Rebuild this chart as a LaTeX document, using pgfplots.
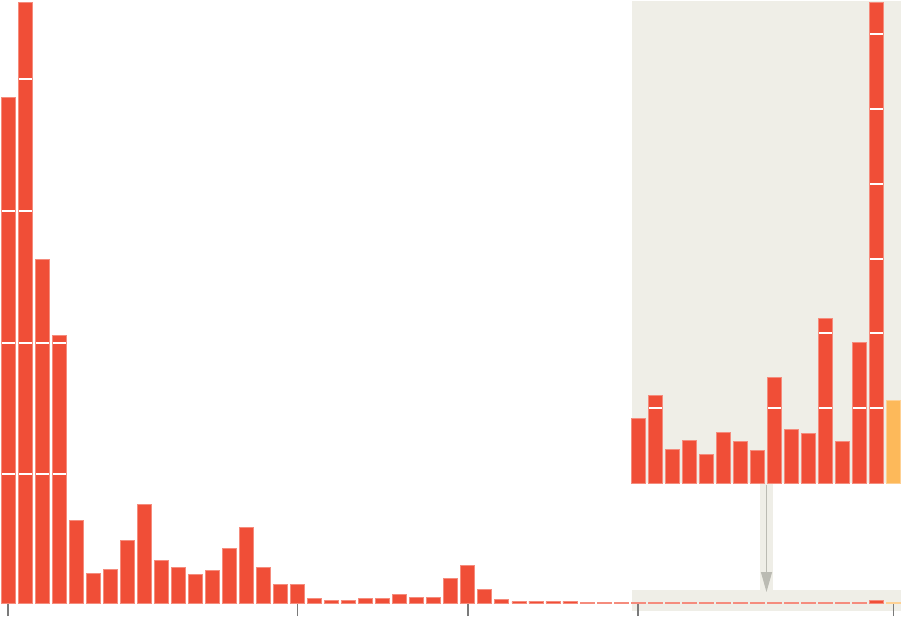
\documentclass[border=0pt]{standalone}
\usepackage{pgfplots}
\pgfplotsset{compat=1.18}
\usepackage{pgfplotstable}
\usetikzlibrary{arrows.meta}
\definecolor{barred}{HTML}{F04E37}
\definecolor{barorange}{HTML}{FDB95A}
\definecolor{beige}{HTML}{EFEEE7}
\definecolor{arrowgray}{HTML}{BBBBB3}
\definecolor{tickgray}{HTML}{7A7A7A}

\pgfplotstableread{
i v
0 506
1 600.4
2 344
3 268
4 83
5 30
6 34
7 63
8 99
9 43
10 36
11 29
12 33
13 55
14 76
15 36
16 19
17 19
18 5
19 3
20 3
21 4.3
22 4.7
23 9
24 6
25 5.3
26 24.3
27 37.3
28 14
29 4
30 1.3
31 2
32 1.3
33 1.7
34 1
35 1
36 1
37 0.35
38 0.45
39 0.2
40 0.25
41 0.15
42 0.25
43 0.2
44 0.2
45 0.55
46 0.3
47 0.25
48 0.85
49 0.2
50 0.75
51 2.5
}\maindata

\pgfplotstableread{
i v
52 0.45
}\mainlast

\pgfplotstableread{
i v
37 65
38 87.3
39 33.7
40 42.7
41 28.7
42 50.3
43 42
44 33
45 105.3
46 53.7
47 49.7
48 164.7
49 42
50 140.3
51 481
}\insetdata

\pgfplotstableread{
i v
52 83
}\insetlast

\pgfplotsset{
  common/.style={
    scale only axis, width=450.5pt,
    xmin=-0.4698, xmax=52.437, ymin=0,
    enlargelimits=false,
  },
}
\newcommand\gaplines[1]{%
  \foreach \gy in {#1}{%
    \pgfsetlinewidth{1pt}\pgfsetstrokecolor{white}%
    \pgfpathmoveto{\pgfplotspointaxisxy{-0.47}{\gy}}%
    \pgfpathlineto{\pgfplotspointaxisxy{52.43}{\gy}}%
    \pgfusepath{stroke}}}

\begin{document}
\begin{tikzpicture}[x=0.5pt,y=0.5pt]
\useasboundingbox (0,0) rectangle (901,618);
% bottom strip and arrow band
\fill[beige] (632,7) rectangle (901,28);
\fill[beige] (760,28) rectangle (773,135);

% main chart
\begin{axis}[common,
  at={(0,15)}, anchor=south west,
  height=301.5pt, ymax=603,
  axis x line*=bottom, axis y line=none,
  x axis line style={draw=none},
  xtick={0,17,27,37,52}, xticklabels={},
  xtick align=outside, major tick length=6.5pt,
  tick style={line width=0.9pt, color=tickgray},
  ytick=\empty,
  clip=false,
]
\addplot[ybar, bar width=7pt, fill=barred, draw=barred!65!white, line width=0.4pt,
  path picture={\gaplines{129,260,392,524}}]
  table[x=i,y=v]{\maindata};
\addplot[ybar, bar width=7pt, fill=barorange, draw=barorange!65!white, line width=0.4pt]
  table[x=i,y=v]{\mainlast};
\end{axis}

% inset
\fill[beige] (632,135) rectangle (901,617);
\begin{axis}[common,
  at={(0,135)}, anchor=south west,
  height=241pt, ymax=482,
  hide axis,
]
\addplot[ybar, bar width=7pt, fill=barred, draw=barred!65!white, line width=0.4pt,
  path picture={\gaplines{74.8,149.6,224.4,299.2,374,448.8}}]
  table[x=i,y=v]{\insetdata};
\addplot[ybar, bar width=7pt, fill=barorange, draw=barorange!65!white, line width=0.4pt]
  table[x=i,y=v]{\insetlast};
\end{axis}

% arrow
\draw[arrowgray, line width=0.6pt, -{Triangle[length=10pt,width=5.5pt]}] (766.5,133) -- (766.5,26);
\end{tikzpicture}
\end{document}
